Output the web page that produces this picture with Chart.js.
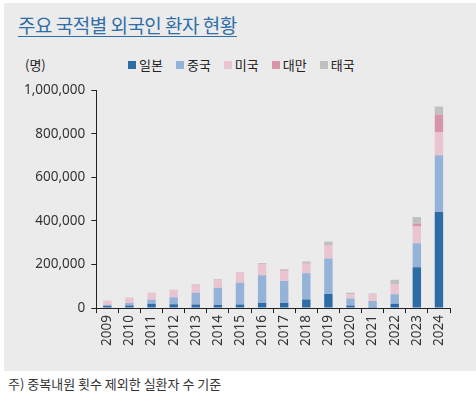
<!DOCTYPE html>
<html>
<head>
<meta charset="utf-8">
<script src="https://cdn.jsdelivr.net/npm/chart.js@4"></script>
<style>
  body { margin: 0; background: #fff; width: 476px; height: 393px; position: relative; overflow: hidden; font-family: "Noto Sans CJK KR", sans-serif; }
  #panel { position: absolute; left: 4px; top: 3px; width: 472px; height: 368px; background: #ebebeb; }
  #title { position: absolute; left: 14px; top: 8px; font-size: 19px; color: #2f6fa8; text-decoration: underline; text-underline-offset: 3px; text-decoration-thickness: 1px; letter-spacing: -0.5px; }
  #unit { position: absolute; left: 21px; top: 52px; font-size: 13px; color: #222; }
  #legend { position: absolute; left: 124px; top: 52px; font-size: 13px; color: #222; display: flex; }
  #legend span.item { margin-right: 13px; display: flex; align-items: center; }
  #legend i { display: inline-block; width: 8px; height: 8px; margin-right: 3px; }
  #chartBox { position: absolute; left: 0px; top: 73px; width: 470px; height: 274px; }
  #note { position: absolute; left: 8px; top: 374px; font-size: 13px; color: #333; }
</style>
</head>
<body>
<div id="panel">
  <div id="title">주요 국적별 외국인 환자 현황</div>
  <div id="unit">(명)</div>
  <div id="legend"></div>
  <div id="chartBox"><canvas id="bars"></canvas></div>
</div>
<div id="note">주) 중복내원 횟수 제외한 실환자 수 기준</div>
<script>
// years on the x axis
const years = ['2009', '2010', '2011', '2012', '2013', '2014', '2015', '2016',
               '2017', '2018', '2019', '2020', '2021', '2022', '2023', '2024'];

// patients per nationality
const japan  = [10000, 12000, 20000, 18000, 16000, 14000, 17000, 24000, 24000, 39000, 65000, 12000, 2000, 20000, 187000, 441000];
const china  = [5000, 11000, 18000, 32000, 55000, 79000, 99000, 127000, 100000, 121000, 162000, 32000, 31000, 44000, 110000, 260000];
const usa    = [17000, 24000, 30000, 32000, 36000, 36000, 45000, 51000, 46000, 44000, 60000, 20000, 30000, 45000, 77000, 104000];
const taiwan = [1000, 1000, 1000, 1000, 1000, 1000, 1000, 2000, 2000, 2000, 3000, 1000, 0, 1000, 14000, 83000];
const thai   = [1000, 1000, 2000, 1000, 2000, 2000, 1000, 3000, 6000, 8000, 15000, 5000, 4000, 20000, 30000, 37000];

const seriesNames = ['일본', '중국', '미국', '대만', '태국'];
const seriesColors = ['#2e6ca5', '#95b3d8', '#ebc4d1', '#d895aa', '#c0c0c0'];
const yTicks = [0, 200000, 400000, 600000, 800000, 1000000];

const values = [japan, china, usa, taiwan, thai];

// html legend
const legend = document.getElementById('legend');
seriesNames.forEach((name, i) => {
    const item = document.createElement('span');
    item.className = 'item';
    item.innerHTML = '<i style="background:' + seriesColors[i] + '"></i>' + name;
    legend.appendChild(item);
});

const tickFont = { family: "'Noto Sans', sans-serif", size: 13.5 };

new Chart(document.getElementById('bars'), {
    type: 'bar',
    data: {
        labels: years,
        datasets: values.map((v, i) => ({
            label: seriesNames[i],
            data: v,
            backgroundColor: seriesColors[i],
            borderWidth: 0,
            barPercentage: 0.38,
            categoryPercentage: 1.0
        }))
    },
    options: {
        responsive: true,
        maintainAspectRatio: false,
        animation: false,
        layout: { padding: { top: 4, right: 24, left: 14, bottom: 2 } },
        plugins: {
            legend: { display: false },
            tooltip: { enabled: false }
        },
        scales: {
            x: {
                stacked: true,
                border: { color: '#222', width: 1 },
                grid: { drawOnChartArea: false, drawTicks: true, tickLength: 5, color: '#222', offset: true },
                ticks: { color: '#333', font: tickFont, minRotation: 90, maxRotation: 90, padding: 2 }
            },
            y: {
                stacked: true,
                min: 0,
                max: 1000000,
                afterBuildTicks: axis => { axis.ticks = yTicks.map(v => ({ value: v })); },
                border: { color: '#222', width: 1 },
                grid: { drawOnChartArea: false, drawTicks: true, tickLength: 5, color: '#222' },
                ticks: {
                    color: '#333',
                    font: tickFont,
                    padding: 6,
                    callback: v => v.toLocaleString('en-US')
                }
            }
        }
    }
});
</script>
</body>
</html>
